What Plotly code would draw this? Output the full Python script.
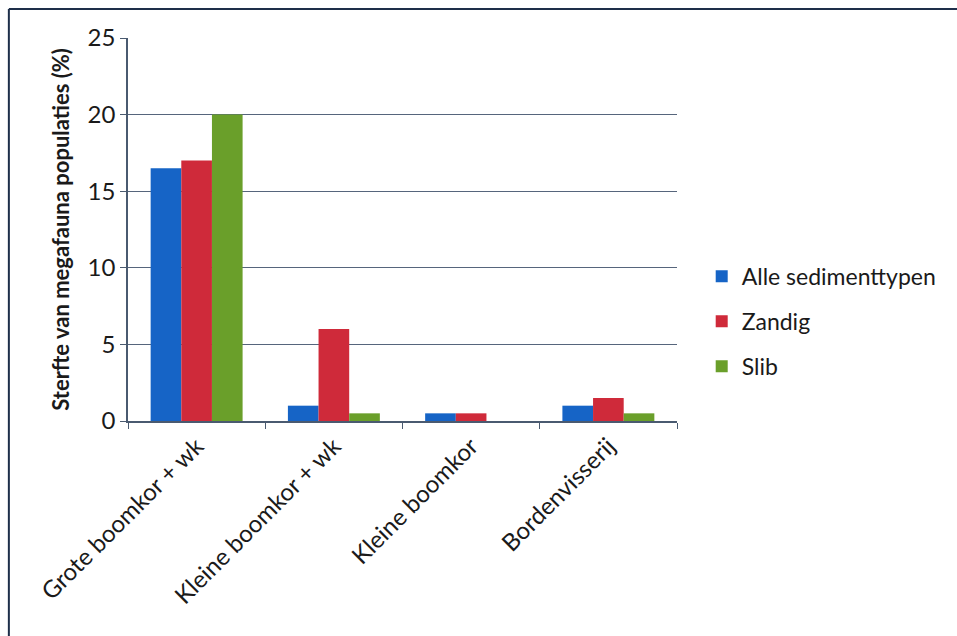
import plotly.graph_objects as go

# Mortality of megafauna populations per fishing gear and sediment type
categories = ["Grote boomkor + wk", "Kleine boomkor + wk", "Kleine boomkor", "Bordenvisserij"]
series_names = ["Alle sedimenttypen", "Zandig", "Slib"]
alle_sedimenttypen = [16.5, 1.0, 0.5, 1.0]
zandig = [17.0, 6.0, 0.5, 1.5]
slib = [20.0, 0.5, 0.0, 0.5]
y_ticks = [0, 5, 10, 15, 20, 25]

colors = ["#1664c6", "#cf2a3a", "#6a9f2a"]
font_family = "Lato, 'Open Sans', sans-serif"

fig = go.Figure()
for i, (name, vals) in enumerate(zip(series_names, [alle_sedimenttypen, zandig, slib])):
    fig.add_trace(go.Bar(
        x=categories, y=vals, name=name,
        marker=dict(color=colors[i], line=dict(width=0)),
        legendgroup=name,
    ))

fig.update_layout(
    width=957, height=636,
    margin=dict(l=128, r=280, t=38, b=215),
    paper_bgcolor="white", plot_bgcolor="white",
    barmode="group", bargap=0.33, bargroupgap=0,
    font=dict(family=font_family, color="#1a1a1a"),
    legend=dict(
        x=1.045, y=0.26, xanchor="left", yanchor="middle",
        font=dict(size=23, color="#1a1a1a"),
        traceorder="grouped", tracegroupgap=12,
        bgcolor="rgba(0,0,0,0)",
    ),
    xaxis=dict(
        tickangle=-45, tickfont=dict(size=24),
        showline=True, linecolor="#4a5a70", linewidth=1.5,
        ticks="outside", tickson="boundaries", ticklen=6, tickcolor="#4a5a70",
        showgrid=False,
    ),
    yaxis=dict(
        range=[0, 25], tickvals=y_ticks, tickfont=dict(size=24),
        showline=True, linecolor="#4a5a70", linewidth=1.5,
        ticks="outside", ticklen=6, tickcolor="#4a5a70",
        showgrid=True, gridcolor="#56657c", gridwidth=1.3,
        zeroline=False,
        title=dict(text="<b>Sterfte van megafauna populaties (%)</b>",
                   font=dict(size=22), standoff=12),
    ),
    shapes=[
        # frame around the chart (top and left edges)
        dict(type="line", xref="paper", yref="paper", x0=-0.217, x1=1.6,
             y0=1.076, y1=1.076, line=dict(color="#1e2f4a", width=2)),
        dict(type="line", xref="paper", yref="paper", x0=-0.217, x1=-0.217,
             y0=1.076, y1=-0.6, line=dict(color="#1e2f4a", width=2)),
    ],
)

fig.write_html("out.html")
